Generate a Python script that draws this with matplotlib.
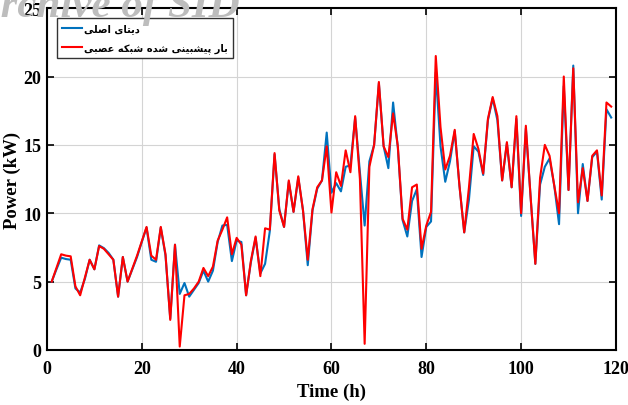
import numpy as np
import matplotlib
matplotlib.use("Agg")
import matplotlib.pyplot as plt

# hourly values
hours = np.arange(1, 120)
actual = [5.0, 5.9, 6.75, 6.65, 6.6, 4.5, 4.2, 5.2, 6.6, 5.9,
          7.65, 7.45, 7.1, 6.6, 3.9, 6.8, 5.0, 5.9, 6.8, 7.9,
          8.95, 6.6, 6.45, 8.95, 6.9, 2.3, 7.7, 4.1, 4.9, 3.9,
          4.4, 4.9, 5.8, 5.0, 5.8, 7.9, 9.1, 9.15, 6.5, 8.0,
          7.9, 4.0, 6.4, 8.2, 5.6, 6.3, 8.7, 14.3, 10.3, 9.0,
          12.3, 10.1, 12.6, 10.2, 6.2, 10.2, 11.8, 12.4, 15.9, 11.5,
          12.2, 11.6, 13.4, 13.5, 17.0, 13.0, 9.1, 13.8, 15.0, 19.5,
          14.9, 13.3, 18.1, 14.8, 9.5, 8.3, 10.9, 11.75, 6.8, 9.0,
          9.4, 20.3, 14.9, 12.3, 13.8, 16.0, 12.0, 8.6, 11.0, 14.9,
          14.5, 12.8, 16.8, 18.4, 16.8, 12.4, 15.1, 11.9, 16.9, 9.8,
          16.2, 11.2, 6.3, 12.1, 13.4, 14.0, 12.0, 9.2, 19.3, 11.7,
          20.8, 10.0, 13.6, 10.9, 14.1, 14.5, 11.0, 17.6, 17.0]
predicted = [5.0, 6.0, 7.0, 6.9, 6.85, 4.65, 4.0, 5.3, 6.6, 5.9,
             7.6, 7.4, 7.0, 6.6, 3.9, 6.8, 5.0, 5.95, 6.9, 7.95,
             9.0, 6.9, 6.6, 9.0, 7.0, 2.2, 7.7, 0.25, 4.0, 4.1,
             4.5, 5.0, 6.0, 5.4, 6.1, 8.0, 8.8, 9.7, 7.0, 8.2,
             7.7, 4.0, 6.5, 8.3, 5.4, 8.9, 8.8, 14.4, 10.2, 9.0,
             12.4, 10.1, 12.7, 10.2, 6.6, 10.3, 11.9, 12.4, 14.9, 10.05,
             13.0, 12.0, 14.6, 13.0, 17.1, 12.5, 0.45, 13.4, 15.0, 19.6,
             14.9, 14.1, 17.3, 14.9, 9.6, 8.8, 11.9, 12.1, 7.4, 9.1,
             10.1, 21.5, 16.3, 13.2, 14.2, 16.1, 12.0, 8.6, 11.9, 15.8,
             14.7, 12.9, 16.9, 18.5, 17.1, 12.4, 15.2, 11.9, 17.1, 10.0,
             16.4, 11.2, 6.3, 12.6, 15.0, 14.2, 12.0, 10.0, 20.0, 11.7,
             20.6, 10.8, 13.3, 10.9, 14.2, 14.6, 11.3, 18.1, 17.8]

label_actual = "دیتای اصلی"
label_pred = "بار پیشبینی شده شبکه عصبی"

# matplotlib has no Arabic shaping, so pick the joined glyph forms by hand
# (isolated, final, initial, medial)
FORMS = {
    "ا": ("\uFE8D", "\uFE8E", None, None),
    "د": ("\uFEA9", "\uFEAA", None, None),
    "ر": ("\uFEAD", "\uFEAE", None, None),
    "ب": ("\uFE8F", "\uFE90", "\uFE91", "\uFE92"),
    "ت": ("\uFE95", "\uFE96", "\uFE97", "\uFE98"),
    "ش": ("\uFEB5", "\uFEB6", "\uFEB7", "\uFEB8"),
    "ص": ("\uFEB9", "\uFEBA", "\uFEBB", "\uFEBC"),
    "ع": ("\uFEC9", "\uFECA", "\uFECB", "\uFECC"),
    "ل": ("\uFEDD", "\uFEDE", "\uFEDF", "\uFEE0"),
    "ن": ("\uFEE5", "\uFEE6", "\uFEE7", "\uFEE8"),
    "ه": ("\uFEE9", "\uFEEA", "\uFEEB", "\uFEEC"),
    "ی": ("\uFBFC", "\uFBFD", "\uFBFE", "\uFBFF"),
    "پ": ("\uFB56", "\uFB57", "\uFB58", "\uFB59"),
    "ک": ("\uFB8E", "\uFB8F", "\uFB90", "\uFB91"),
}


def shape(text):
    out = []
    for i, ch in enumerate(text):
        if ch not in FORMS:
            out.append(ch)
            continue
        prev = text[i - 1] if i > 0 else " "
        nxt = text[i + 1] if i + 1 < len(text) else " "
        joins_prev = prev in FORMS and FORMS[prev][2] is not None
        joins_next = FORMS[ch][2] is not None and nxt in FORMS
        iso, fin, ini, med = FORMS[ch]
        if joins_prev and joins_next:
            out.append(med)
        elif joins_prev:
            out.append(fin)
        elif joins_next:
            out.append(ini)
        else:
            out.append(iso)
    return "".join(out)[::-1]


serif = ["Liberation Serif", "DejaVu Serif"]

fig = plt.figure(figsize=(6.28, 4.06), dpi=100)
ax = fig.add_axes([0.0748, 0.1355, 0.906, 0.842])

ax.plot(hours, actual, color="#0072BD", lw=1.5, label=shape(label_actual))
ax.plot(hours, predicted, color="#FF0000", lw=1.5, label=shape(label_pred))

ax.set_xlim(0, 120)
ax.set_ylim(0, 25)
ax.set_xticks(np.arange(0, 121, 20))
ax.set_yticks(np.arange(0, 26, 5))
ax.grid(True, color="#d4d4d4", lw=0.8)
ax.tick_params(direction="in", top=True, right=True, length=5, width=1.2)
ax.tick_params(axis="x", pad=7)
ax.tick_params(axis="y", pad=4)
for s in ax.spines.values():
    s.set_linewidth(1.5)
for lab in ax.get_xticklabels() + ax.get_yticklabels():
    lab.set_family(serif)
    lab.set_fontweight("bold")
    lab.set_fontsize(13)

ax.set_xlabel("Time (h)", family=serif, fontweight="bold", fontsize=13.5, labelpad=4)
ax.set_ylabel("Power (kW)", family=serif, fontweight="bold", fontsize=13.5, labelpad=2)

leg = ax.legend(loc="upper left", bbox_to_anchor=(0.018, 0.97), fancybox=False,
                framealpha=1, edgecolor="#333333", handlelength=2.0, handletextpad=0.2,
                borderpad=0.5, labelspacing=0.9, borderaxespad=0,
                prop={"family": ["DejaVu Sans"], "weight": "bold", "size": 7.1})
leg.get_frame().set_linewidth(1.0)

# faint watermark cut off at the top edge
fig.text(-0.045, 0.958, "Archive of SID", family=serif, style="italic", fontweight="bold",
         fontsize=31, color="#bdbdbd", va="baseline", ha="left", zorder=0)

fig.savefig("out.png", dpi=100)
